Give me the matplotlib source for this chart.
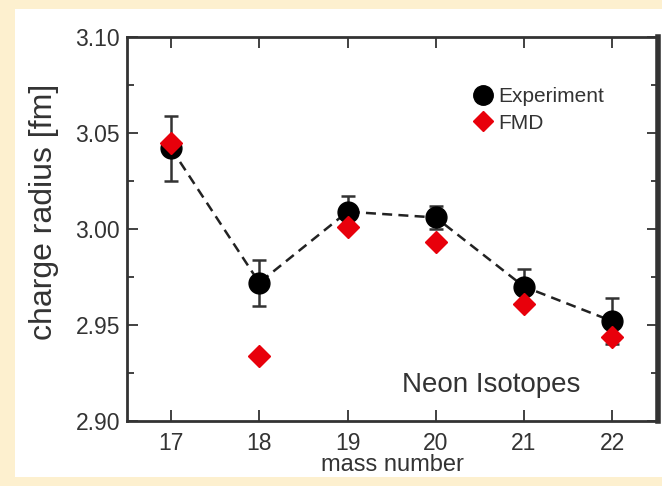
import numpy as np
import matplotlib
matplotlib.use("Agg")
import matplotlib.pyplot as plt
from matplotlib.patches import Rectangle
from matplotlib.lines import Line2D
from matplotlib.ticker import MultipleLocator

# neon isotopes, charge radii
mass = [17, 18, 19, 20, 21, 22]
r_exp = [3.042, 2.972, 3.009, 3.006, 2.970, 2.952]
r_err = [0.017, 0.012, 0.008, 0.006, 0.009, 0.012]
r_fmd = [3.045, 2.934, 3.001, 2.993, 2.961, 2.944]
yticks = [2.90, 2.95, 3.00, 3.05, 3.10]

plt.rcParams['font.family'] = ['Liberation Sans', 'DejaVu Sans']
txt = '#333333'

fig = plt.figure(figsize=(6.62, 4.86), dpi=100, facecolor='#fdf0cf')
# white panel on the cream background
panel = Rectangle((15/662, 9/486), 1, 1 - 18/486, transform=fig.transFigure,
                  facecolor='white', edgecolor='none', zorder=-10)
fig.add_artist(panel)
ax = fig.add_axes([127/662, 65/486, 531/662, 384/486])
ax.set_zorder(1)
ax.set_facecolor('white')

ax.plot(mass, r_exp, ls=(0, (4, 2.5)), c='#222222', lw=1.8, zorder=2)
ax.errorbar(mass, r_exp, yerr=r_err, fmt='o', ms=15, c='black', mfc='black',
            ecolor=txt, elinewidth=1.8, capsize=5, capthick=1.8, zorder=3)
ax.plot(mass, r_fmd, 'D', ms=11, c='#e8000b', mec='#e8000b', ls='', zorder=4)

ax.set_xlim(16.5, 22.52)
ax.set_ylim(2.90, 3.10)
ax.set_xticks(mass)
ax.set_yticks(yticks)
ax.set_yticklabels(['%.2f' % v for v in yticks])
ax.yaxis.set_minor_locator(MultipleLocator(0.025))
ax.tick_params(which='both', direction='in', top=True, right=True,
               labelsize=16.5, labelcolor=txt, color=txt, width=1.3)
ax.tick_params(which='major', length=8, pad=5)
ax.tick_params(axis='x', pad=8)
ax.tick_params(which='minor', length=5)
for s in ax.spines.values():
    s.set_linewidth(2)
    s.set_color(txt)
ax.spines['right'].set_linewidth(4)

ax.set_xlabel('mass number', fontsize=17, color=txt, labelpad=-1)
ax.set_ylabel('charge radius [fm]', fontsize=23, color=txt)
ax.yaxis.set_label_coords(-0.128, 0.544)

ax.text(0.685, 0.075, 'Neon Isotopes', transform=ax.transAxes, fontsize=20,
        color=txt, ha='center')

handles = [Line2D([], [], marker='o', ls='', ms=14, color='black'),
           Line2D([], [], marker='D', ls='', ms=10, color='#e8000b')]
leg = ax.legend(handles, ['Experiment', 'FMD'], loc='upper left',
                bbox_to_anchor=(0.619, 0.907), frameon=False,
                fontsize=15, handletextpad=0.15, labelspacing=0.35,
                borderpad=0.2, handlelength=1.2)
for t in leg.get_texts():
    t.set_color(txt)

fig.savefig('out.png', dpi=100, facecolor=fig.get_facecolor())
